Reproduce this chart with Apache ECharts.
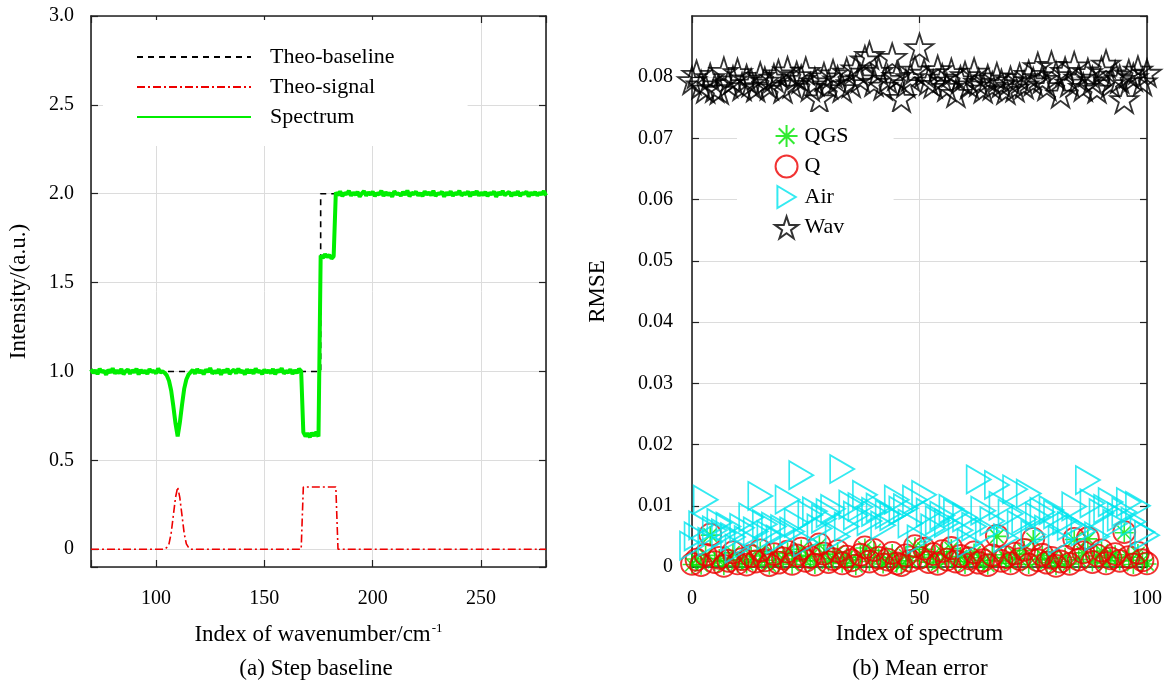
<!DOCTYPE html>
<html><head><meta charset="utf-8">
<script src="https://cdn.jsdelivr.net/npm/echarts@6/dist/echarts.min.js"></script>
<style>html,body{margin:0;padding:0;background:#fff}#c{width:1166px;height:682px}</style>
</head><body><div id="c"></div>
<script>
const FONT = '"Liberation Serif","Times New Roman",serif';

// ---------- Panel (a): step baseline ----------
const specStartX = 70; // first wavenumber index, step 1
const spectrum = [
  // 70-103
  1.012,0.991,1.008,0.985,1.015,0.996,1.004,0.982,1.010,0.993,1.018,0.988,1.006,0.990,1.014,0.984,1.002,
  1.011,0.987,1.007,0.995,1.016,0.983,1.009,0.992,1.005,0.986,1.013,0.998,1.003,0.989,1.017,0.994,1.001,
  // 104-116 (absorption peak)
  0.992,0.978,0.948,0.893,0.805,0.708,0.635,0.712,0.812,0.902,0.955,0.982,0.996,
  // 117-167
  1.009,0.987,1.014,0.993,1.006,0.984,1.011,0.997,1.019,0.988,1.003,0.991,1.013,0.982,1.007,0.995,1.015,
  0.986,1.002,1.010,0.989,1.016,0.994,1.005,0.983,1.012,0.992,1.008,0.987,1.017,0.996,1.004,0.985,1.011,
  0.993,1.006,0.990,1.014,0.984,1.009,0.997,1.018,0.988,1.003,0.994,1.012,0.986,1.007,0.991,1.015,1.002,
  // 168-175
  0.658,0.636,0.652,0.630,0.655,0.638,0.660,0.634,
  // 176-182
  1.652,1.638,1.660,1.643,1.656,1.635,1.648,
  // 183-280
  2.008,1.991,2.013,1.986,2.004,1.997,2.016,1.989,2.006,1.993,
  2.011,1.984,2.002,2.015,1.990,2.007,1.995,2.012,1.987,2.003,
  1.996,2.017,1.988,2.009,1.992,2.005,1.983,2.014,1.998,2.001,
  1.989,2.010,1.994,2.018,1.985,2.006,1.997,2.012,1.990,2.004,
  1.986,2.013,1.995,2.008,1.991,2.016,1.987,2.002,1.999,2.011,
  1.984,2.007,1.993,2.014,1.988,2.005,1.996,2.017,1.990,2.003,
  1.998,2.012,1.985,2.009,1.994,2.015,1.989,2.006,1.992,2.010,
  1.987,2.004,1.997,2.013,1.983,2.008,1.995,2.016,1.991,2.002,
  2.011,1.986,2.006,1.993,2.014,1.988,2.003,1.999,2.012,1.985,
  2.007,1.994,2.010,1.990,2.005,1.996,2.015,1.989
];
const theoBaseline = [[70,1],[176,1],[176,2],[280,2]];
const theoSignal = [[70,0],[104,0],[105,0.01],[106,0.03],[107,0.09],[108,0.19],[109,0.29],[110,0.35],
  [111,0.29],[112,0.19],[113,0.09],[114,0.03],[115,0.01],[116,0],[167,0],[168,0.35],[183,0.35],[184,0],[280,0]];
const legendA = ['Theo-baseline','Theo-signal','Spectrum'];

// ---------- Panel (b): mean error ----------
const rmseQGS = [
  0.0004,0.0013,0.0003,0.0019,0.0052,0.0009,0.0014,0.0002,0.0011,0.0023,
  0.0006,0.0012,0.0005,0.0018,0.0008,0.0026,0.0011,0.0003,0.0022,0.0007,
  0.0013,0.0025,0.0004,0.0019,0.0029,0.0010,0.0017,0.0004,0.0036,0.0021,
  0.0008,0.0014,0.0025,0.0006,0.0016,0.0012,0.0002,0.0020,0.0031,0.0009,
  0.0027,0.0015,0.0005,0.0012,0.0022,0.0006,0.0003,0.0018,0.0010,0.0033,
  0.0016,0.0029,0.0008,0.0020,0.0005,0.0025,0.0012,0.0030,0.0009,0.0017,
  0.0004,0.0015,0.0023,0.0007,0.0011,0.0003,0.0020,0.0050,0.0010,0.0015,
  0.0006,0.0021,0.0013,0.0027,0.0004,0.0045,0.0012,0.0019,0.0007,0.0014,
  0.0002,0.0009,0.0016,0.0005,0.0045,0.0012,0.0023,0.0046,0.0008,0.0018,
  0.0026,0.0006,0.0015,0.0020,0.0010,0.0056,0.0016,0.0004,0.0022,0.0011,
  0.0005];
const rmseQ = [
  0.0005,0.0012,0.0003,0.0020,0.0053,0.0008,0.0015,0.0002,0.0010,0.0024,
  0.0006,0.0013,0.0004,0.0018,0.0009,0.0027,0.0011,0.0003,0.0021,0.0007,
  0.0014,0.0025,0.0005,0.0019,0.0030,0.0010,0.0016,0.0004,0.0037,0.0022,
  0.0008,0.0013,0.0026,0.0006,0.0017,0.0011,0.0002,0.0020,0.0032,0.0009,
  0.0028,0.0015,0.0004,0.0012,0.0023,0.0006,0.0003,0.0019,0.0010,0.0034,
  0.0015,0.0030,0.0008,0.0021,0.0005,0.0026,0.0012,0.0031,0.0009,0.0018,
  0.0004,0.0014,0.0024,0.0007,0.0011,0.0003,0.0019,0.0051,0.0010,0.0016,
  0.0006,0.0022,0.0013,0.0028,0.0004,0.0046,0.0011,0.0020,0.0007,0.0015,
  0.0002,0.0009,0.0017,0.0005,0.0046,0.0012,0.0024,0.0047,0.0008,0.0019,
  0.0027,0.0006,0.0014,0.0021,0.0010,0.0057,0.0016,0.0004,0.0023,0.0011,
  0.0006];
const rmseAir = [
  0.0035,0.0050,0.0068,0.0110,0.0041,0.0060,0.0072,0.0055,0.0066,0.0049,
  0.0030,0.0064,0.0044,0.0081,0.0058,0.0116,0.0070,0.0052,0.0066,0.0045,
  0.0062,0.0110,0.0058,0.0072,0.0150,0.0040,0.0085,0.0091,0.0063,0.0079,
  0.0088,0.0095,0.0050,0.0160,0.0066,0.0102,0.0084,0.0098,0.0118,0.0075,
  0.0090,0.0097,0.0068,0.0086,0.0083,0.0110,0.0092,0.0096,0.0071,0.0110,
  0.0045,0.0118,0.0089,0.0063,0.0076,0.0084,0.0072,0.0095,0.0088,0.0060,
  0.0081,0.0039,0.0066,0.0143,0.0092,0.0058,0.0075,0.0134,0.0100,0.0047,
  0.0087,0.0127,0.0069,0.0078,0.0120,0.0053,0.0082,0.0090,0.0061,0.0093,
  0.0086,0.0044,0.0076,0.0067,0.0099,0.0062,0.0058,0.0142,0.0104,0.0050,
  0.0088,0.0095,0.0106,0.0071,0.0082,0.0090,0.0106,0.0074,0.0100,0.0057,
  0.0052];
const rmseWav = [
  0.0795,0.0805,0.0788,0.0781,0.0800,0.0782,0.0779,0.0810,0.0790,0.0796,
  0.0808,0.0785,0.0798,0.0791,0.0783,0.0802,0.0794,0.0786,0.0799,0.0806,
  0.0781,0.0811,0.0789,0.0803,0.0797,0.0810,0.0784,0.0793,0.0765,0.0801,
  0.0788,0.0806,0.0796,0.0782,0.0809,0.0790,0.0814,0.0798,0.0829,0.0836,
  0.0792,0.0810,0.0786,0.0797,0.0833,0.0802,0.0766,0.0790,0.0800,0.0812,
  0.0849,0.0807,0.0794,0.0789,0.0813,0.0799,0.0784,0.0808,0.0774,0.0796,
  0.0803,0.0788,0.0809,0.0792,0.0781,0.0798,0.0786,0.0801,0.0790,0.0779,
  0.0795,0.0783,0.0800,0.0788,0.0805,0.0793,0.0818,0.0797,0.0785,0.0820,
  0.0803,0.0773,0.0810,0.0791,0.0819,0.0799,0.0784,0.0808,0.0795,0.0781,
  0.0811,0.0822,0.0790,0.0804,0.0797,0.0764,0.0806,0.0800,0.0812,0.0793,
  0.0807];
const legendB = ['QGS','Q','Air','Wav'];

// ---------- chart ----------
const chart = echarts.init(document.getElementById('c'), null, {renderer: 'canvas'});
const AX = '#222';
const GRIDC = '#dcdcdc';
const tickStyle = {inside: true, length: 7, lineStyle: {color: AX, width: 1.2}};
const lineStyleAx = {show: true, onZero: false, lineStyle: {color: AX, width: 1.6}};
const lab = {fontFamily: FONT, fontSize: 20, color: '#000'};

const xFmtA = v => (v % 50 === 0 ? String(v) : '');
const yFmtA = v => { const r = Math.round(v * 10) / 10; if (Math.abs(r * 2 - Math.round(r * 2)) > 1e-6 || v < -0.05) return ''; return r === 0 ? '0' : r.toFixed(1); };
const yFmtB = v => (Math.abs(v) < 1e-9 ? '0' : v.toFixed(2));

const specData = spectrum.map((v, i) => [specStartX + i, v]);
const idx = a => a.map((v, i) => [i, v]);

const STAR = 'path://M50,0L61.23,34.55L97.55,34.55L68.17,55.9L79.39,90.45L50,69.1L20.61,90.45L31.83,55.9L2.45,34.55L38.77,34.55Z';
const TRI = 'path://M0,0L20,12L0,24Z';
const AST = 'path://M10,0L10,20M0,10L20,10M2.9,2.9L17.1,17.1M17.1,2.9L2.9,17.1';

const option = {
  animation: false,
  backgroundColor: '#fff',
  grid: [
    {left: 91, right: 620, top: 16, bottom: 115},
    {left: 692, right: 19, top: 16, bottom: 115}
  ],
  xAxis: [
    {gridIndex: 0, type: 'value', min: 70, max: 280, splitNumber: 5, position: 'bottom',
     axisLine: lineStyleAx, axisTick: tickStyle,
     axisLabel: Object.assign({margin: 22, formatter: xFmtA}, lab),
     splitLine: {show: true, lineStyle: {color: GRIDC, width: 1}},
     name: 'Index of wavenumber/cm{sup|-1}', nameLocation: 'middle', nameGap: 55,
     nameTextStyle: {fontFamily: FONT, fontSize: 23, color: '#000',
       rich: {sup: {fontFamily: FONT, fontSize: 13, verticalAlign: 'top', padding: [0, 0, 12, 1]}}}},
    {gridIndex: 0, type: 'value', min: 70, max: 280, splitNumber: 5, position: 'top',
     axisLine: lineStyleAx, axisTick: tickStyle, axisLabel: {show: false}, splitLine: {show: false}},
    {gridIndex: 1, type: 'value', min: 0, max: 100, interval: 50, position: 'bottom',
     axisLine: lineStyleAx, axisTick: tickStyle,
     axisLabel: Object.assign({margin: 22}, lab),
     splitLine: {show: true, lineStyle: {color: GRIDC, width: 1}},
     name: 'Index of spectrum', nameLocation: 'middle', nameGap: 55,
     nameTextStyle: {fontFamily: FONT, fontSize: 23, color: '#000'}},
    {gridIndex: 1, type: 'value', min: 0, max: 100, interval: 50, position: 'top',
     axisLine: lineStyleAx, axisTick: tickStyle, axisLabel: {show: false}, splitLine: {show: false}}
  ],
  yAxis: [
    {gridIndex: 0, type: 'value', min: -0.1, max: 3.0, splitNumber: 5, position: 'left',
     axisLine: lineStyleAx, axisTick: tickStyle,
     axisLabel: Object.assign({margin: 17, formatter: yFmtA}, lab),
     splitLine: {show: true, lineStyle: {color: GRIDC, width: 1}},
     name: 'Intensity/(a.u.)', nameLocation: 'middle', nameGap: 61, nameRotate: 90,
     nameTextStyle: {fontFamily: FONT, fontSize: 23, color: '#000'}},
    {gridIndex: 0, type: 'value', min: -0.1, max: 3.0, splitNumber: 5, position: 'right',
     axisLine: lineStyleAx, axisTick: tickStyle, axisLabel: {show: false}, splitLine: {show: false}},
    {gridIndex: 1, type: 'value', min: 0, max: 0.09, interval: 0.01, position: 'left',
     axisLine: lineStyleAx, axisTick: tickStyle,
     axisLabel: Object.assign({margin: 19, formatter: yFmtB, showMaxLabel: false}, lab),
     splitLine: {show: true, lineStyle: {color: GRIDC, width: 1}},
     name: 'RMSE', nameLocation: 'middle', nameGap: 83, nameRotate: 90,
     nameTextStyle: {fontFamily: FONT, fontSize: 23, color: '#000'}},
    {gridIndex: 1, type: 'value', min: 0, max: 0.09, interval: 0.01, position: 'right',
     axisLine: lineStyleAx, axisTick: tickStyle, axisLabel: {show: false}, splitLine: {show: false}}
  ],
  legend: [
    {data: legendA, orient: 'vertical', left: 103, top: 20, padding: [26, 73, 18, 33],
     backgroundColor: '#fff', itemWidth: 114, itemHeight: 14, itemGap: 8,
     itemStyle: {opacity: 0},
     textStyle: {fontFamily: FONT, fontSize: 22, color: '#000', padding: [0, 0, 0, 14]},
     selectedMode: false},
    {data: legendB, orient: 'vertical', left: 737, top: 112, padding: [12, 45, 10, 37],
     backgroundColor: '#fff', itemWidth: 26, itemHeight: 22, itemGap: 6.5,
     textStyle: {fontFamily: FONT, fontSize: 22, color: '#000'},
     selectedMode: false}
  ],
  series: [
    {name: 'Theo-baseline', type: 'line', xAxisIndex: 0, yAxisIndex: 0, data: theoBaseline,
     symbol: 'none', lineStyle: {color: '#000', width: 1.6, type: [6, 5]}, itemStyle: {color: '#000'}, z: 3},
    {name: 'Theo-signal', type: 'line', xAxisIndex: 0, yAxisIndex: 0, data: theoSignal,
     symbol: 'none', lineStyle: {color: '#ee0000', width: 1.6, type: [8, 3, 2, 3]}, itemStyle: {color: '#ee0000'}, z: 3},
    {name: 'Spectrum', type: 'line', xAxisIndex: 0, yAxisIndex: 0, data: specData,
     symbol: 'none', lineStyle: {color: '#00ee00', width: 4}, itemStyle: {color: '#00ee00'}, z: 4},

    {name: 'QGS', type: 'scatter', xAxisIndex: 2, yAxisIndex: 2, data: idx(rmseQGS),
     symbol: AST, symbolSize: 19,
     itemStyle: {color: 'transparent', borderColor: '#00e600', borderWidth: 1.6}, z: 3},
    {name: 'Q', type: 'scatter', xAxisIndex: 2, yAxisIndex: 2, data: idx(rmseQ),
     symbol: 'circle', symbolSize: 22,
     itemStyle: {color: 'transparent', borderColor: '#ee0000', borderWidth: 1.8}, z: 3},
    {name: 'Air', type: 'scatter', xAxisIndex: 2, yAxisIndex: 2, data: idx(rmseAir),
     symbol: TRI, symbolSize: [24, 28],
     itemStyle: {color: 'transparent', borderColor: '#00e5ee', borderWidth: 1.8}, z: 3},
    {name: 'Wav', type: 'scatter', xAxisIndex: 2, yAxisIndex: 2, data: idx(rmseWav),
     symbol: STAR, symbolSize: [28, 27],
     itemStyle: {color: 'transparent', borderColor: '#000', borderWidth: 1.8}, z: 3}
  ],
  graphic: [
    {type: 'text', x: 316, y: 669, style: {text: '(a) Step baseline', font: '23px ' + FONT, fill: '#000', align: 'center', verticalAlign: 'middle'}},
    {type: 'text', x: 920, y: 669, style: {text: '(b) Mean error', font: '23px ' + FONT, fill: '#000', align: 'center', verticalAlign: 'middle'}}
  ]
};
chart.setOption(option);
</script>
</body></html>
